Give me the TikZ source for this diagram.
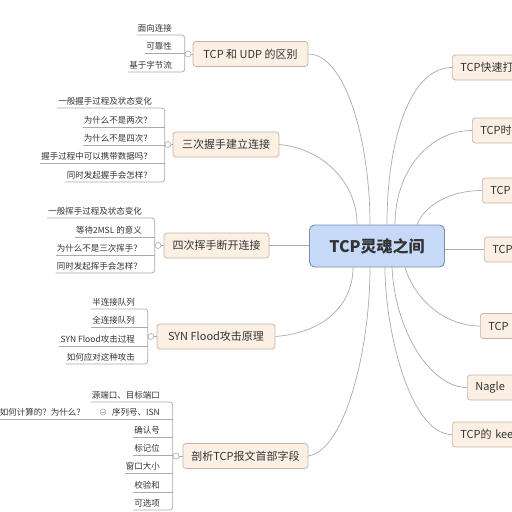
\documentclass[tikz,border=0pt]{standalone}
\usepackage{fontspec}
\usepackage{xcolor}
\setmainfont{Noto Sans CJK SC}
\definecolor{rootFill}{HTML}{C6DAF8}
\definecolor{rootEdge}{HTML}{7A8DB0}
\definecolor{topicFill}{HTML}{FCF0E5}
\definecolor{topicEdge}{HTML}{C2B5A8}
\definecolor{wire}{HTML}{ABABAB}
\definecolor{ink}{HTML}{333333}

\tikzset{
  root/.style={rounded corners=5pt, fill=rootFill, draw=rootEdge, line width=0.9pt,
    minimum width=135pt, minimum height=42pt, text=ink,
    font=\fontsize{16}{18}\selectfont\bfseries},
  topic/.style={rounded corners=3pt, fill=topicFill, draw=topicEdge, line width=0.7pt,
    minimum height=25pt, inner xsep=0pt, text=ink, font=\fontsize{11}{13}\selectfont},
  side/.style={topic, anchor=west, text width=80pt, inner xsep=8pt, align=left},
  leaf/.style={anchor=south east, inner xsep=1pt, inner ysep=2.5pt, text=ink,
    font=\fontsize{8.5}{10}\selectfont},
  fold/.style={circle, draw=wire, fill=white, line width=0.6pt, inner sep=0pt, minimum size=6pt},
  link/.style={draw=wire, line width=0.7pt},
}

\begin{document}
\begin{tikzpicture}[x=1pt, y=-1pt]
\path[use as bounding box, fill=white] (0,0) rectangle (512,512);

\node[root] (soul) at (377,246) {TCP灵魂之间};

\node[topic, minimum width=115pt] (diff) at (250.5,54) {TCP 和 UDP 的区别};
\node[topic, minimum width=106pt] (shake) at (226,144.5) {三次握手建立连接};
\node[topic, minimum width=105pt] (wave) at (216.5,245.5) {四次挥手断开连接};
\node[topic, minimum width=118pt] (flood) at (216,336.5) {SYN Flood攻击原理};
\node[topic, minimum width=125pt] (header) at (245.5,456) {剖析TCP报文首部字段};

\node[side] (fastopen) at (452,67.5) {TCP快速打};
\node[side] (stamp) at (472,130.5) {TCP时};
\node[side] (third) at (482,190.5) {TCP};
\node[side] (fourth) at (484,249.5) {TCP};
\node[side] (fifth) at (480,326) {TCP};
\node[side] (nagle) at (467,387.5) {Nagle};
\node[side] (keep) at (452,434.5) {TCP的 kee};

\draw[link] (diff.east) .. controls (345,54) and (370,140) .. ([xshift=-7pt]soul.north);
\draw[link] (shake.east) .. controls (320,148) and (357,180) .. ([xshift=-20pt]soul.north);
\draw[link] (wave.east) -- (wave.east -| soul.west);
\draw[link] (flood.east) .. controls (330,332) and (353,300) .. ([xshift=-24pt]soul.south);
\draw[link] (header.east) .. controls (345,450) and (370,350) .. ([xshift=-7pt]soul.south);
\draw[link] (fastopen.west) .. controls (410,67.5) and (387,140) .. ([xshift=10pt]soul.north);
\draw[link] (stamp.west) .. controls (430,130.5) and (395,170) .. ([xshift=18pt]soul.north);
\draw[link] (third.west) .. controls (450,190.5) and (425,205) .. ([xshift=40pt]soul.north);
\draw[link] (fourth.west) -- (fourth.west -| soul.east);
\draw[link] (fifth.west) .. controls (445,326) and (415,300) .. ([xshift=28pt]soul.south);
\draw[link] (nagle.west) .. controls (430,387.5) and (395,330) .. ([xshift=15pt]soul.south);
\draw[link] (keep.west) .. controls (410,434.5) and (385,330) .. ([xshift=8pt]soul.south);

\node[fold] (foldA) at (188,54) {};
\node[leaf] (a1) at (173,35) {面向连接};
\node[leaf] (a2) at (173,53) {可靠性};
\node[leaf] (a3) at (173,72) {基于字节流};
\draw[link, rounded corners=3pt] (a1.south west) -- (a1.south -| foldA.west) -- (a3.south -| foldA.west) -- (a3.south west);
\draw[link] (a2.south west) -- (a2.south -| foldA.west);
\draw[link] (foldA.east) -- (diff.west);

\node[fold] (foldB) at (168,144.5) {};
\node[leaf] (b1) at (153,108) {一般握手过程及状态变化};
\node[leaf] (b2) at (153,127) {为什么不是两次？};
\node[leaf] (b3) at (153,145) {为什么不是四次？};
\node[leaf] (b4) at (153,163) {握手过程中可以携带数据吗？};
\node[leaf] (b5) at (153,182) {同时发起握手会怎样？};
\draw[link, rounded corners=3pt] (b1.south west) -- (b1.south -| foldB.west) -- (b5.south -| foldB.west) -- (b5.south west);
\draw[link] (b2.south west) -- (b2.south -| foldB.west);
\draw[link] (b3.south west) -- (b3.south -| foldB.west);
\draw[link] (b4.south west) -- (b4.south -| foldB.west);
\draw[link] (foldB.east) -- (shake.west);

\node[fold] (foldC) at (158,245.5) {};
\node[leaf] (c1) at (143,218) {一般挥手过程及状态变化};
\node[leaf] (c2) at (143,237) {等待2MSL 的意义};
\node[leaf] (c3) at (143,255) {为什么不是三次挥手？};
\node[leaf] (c4) at (143,273) {同时发起挥手会怎样？};
\draw[link, rounded corners=3pt] (c1.south west) -- (c1.south -| foldC.west) -- (c4.south -| foldC.west) -- (c4.south west);
\draw[link] (c2.south west) -- (c2.south -| foldC.west);
\draw[link] (c3.south west) -- (c3.south -| foldC.west);
\draw[link] (foldC.east) -- (wave.west);

\node[fold] (foldD) at (151,336.5) {};
\node[leaf] (d1) at (136,309) {半连接队列};
\node[leaf] (d2) at (136,327) {全连接队列};
\node[leaf] (d3) at (136,346) {SYN Flood攻击过程};
\node[leaf] (d4) at (136,364) {如何应对这种攻击};
\draw[link, rounded corners=3pt] (d1.south west) -- (d1.south -| foldD.west) -- (d4.south -| foldD.west) -- (d4.south west);
\draw[link] (d2.south west) -- (d2.south -| foldD.west);
\draw[link] (d3.south west) -- (d3.south -| foldD.west);
\draw[link] (foldD.east) -- (flood.west);

\node[fold] (foldE) at (176,456) {};
\node[leaf] (e1) at (161,402) {源端口、目标端口};
\node[leaf] (e2) at (161,419) {序列号、ISN};
\node[leaf] (e3) at (161,437) {确认号};
\node[leaf] (e4) at (161,455) {标记位};
\node[leaf] (e5) at (161,473) {窗口大小};
\node[leaf] (e6) at (161,492) {校验和};
\node[leaf] (e7) at (161,510) {可选项};
\draw[link, rounded corners=3pt] (e1.south west) -- (e1.south -| foldE.west) -- (e7.south -| foldE.west) -- (e7.south west);
\draw[link] (e2.south west) -- (e2.south -| foldE.west);
\draw[link] (e3.south west) -- (e3.south -| foldE.west);
\draw[link] (e4.south west) -- (e4.south -| foldE.west);
\draw[link] (e5.south west) -- (e5.south -| foldE.west);
\draw[link] (e6.south west) -- (e6.south -| foldE.west);
\draw[link] (foldE.east) -- (header.west);

\node[leaf] (isnWhy) at (86,419) {如何计算的？为什么？};
\draw[link] (isnWhy.south west) -- (e2.south west);
\node[fold] (foldIsn) at (103,412) {};
\draw[link] ([xshift=-1.8pt]foldIsn.center) -- ([xshift=1.8pt]foldIsn.center);
\end{tikzpicture}
\end{document}
